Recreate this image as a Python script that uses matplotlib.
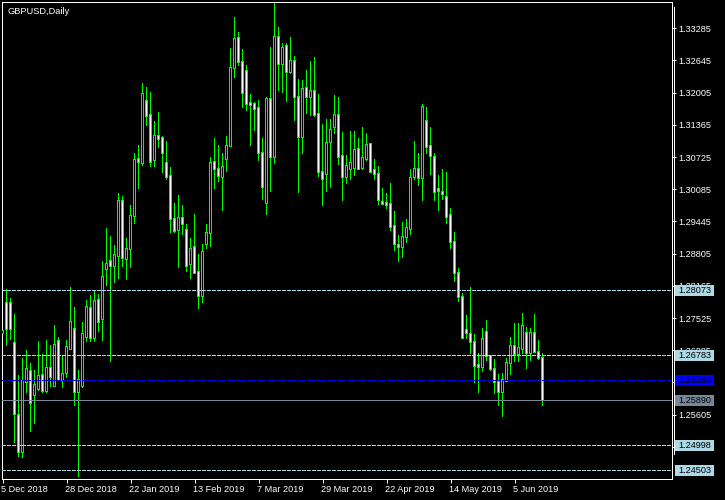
import matplotlib
matplotlib.use("Agg")
import matplotlib.pyplot as plt
from matplotlib.patches import Rectangle
from matplotlib.lines import Line2D
import matplotlib.transforms as mtrans

plt.rcParams['lines.scale_dashes'] = False
plt.rcParams['font.family'] = ['Liberation Sans', 'DejaVu Sans']

opens = [1.27228, 1.27818, 1.27818, 1.27023, 1.25592, 1.24856, 1.26248, 1.26479, 1.25989, 1.26109,
         1.26387, 1.26081, 1.26526, 1.26180, 1.27063, 1.26300, 1.26427, 1.26904, 1.27302, 1.26049,
         1.26180, 1.27154, 1.27719, 1.27123, 1.27884, 1.27500, 1.28494, 1.28659, 1.28566, 1.28765,
         1.29852, 1.28705, 1.28904, 1.29560, 1.30687, 1.30601, 1.31834, 1.31556, 1.30661, 1.31138,
         1.31099, 1.30601, 1.30349, 1.29489, 1.29270, 1.29508, 1.29276, 1.28594, 1.28932, 1.28435,
         1.27970, 1.28998, 1.29210, 1.30621, 1.30482, 1.30335, 1.30681, 1.30952, 1.32490, 1.33087,
         1.32610, 1.32436, 1.31801, 1.31781, 1.31695, 1.30800, 1.29818, 1.31874, 1.30721, 1.33107,
         1.32570, 1.32939, 1.32423, 1.32630, 1.31914, 1.31119, 1.32093, 1.31926, 1.32039, 1.31576,
         1.30435, 1.30383, 1.31031, 1.31317, 1.31556, 1.30741, 1.30323, 1.30482, 1.30502, 1.30880,
         1.30514, 1.30687, 1.30985, 1.30469, 1.30383, 1.29826, 1.29814, 1.29787, 1.29355, 1.28978,
         1.28944, 1.29143, 1.29290, 1.30335, 1.30488, 1.30304, 1.31437, 1.30940, 1.30727, 1.30097,
         1.30031, 1.29926, 1.29568, 1.29031, 1.28415, 1.27938, 1.27282, 1.27202, 1.27043, 1.26586,
         1.26559, 1.27254, 1.26765, 1.26506, 1.26248, 1.26061, 1.26280, 1.26626, 1.26976, 1.26805,
         1.26904, 1.27222, 1.26825, 1.27222, 1.26857, 1.26726]
highs = [1.27321, 1.28097, 1.27904, 1.27586, 1.26373, 1.26711, 1.26870, 1.26626, 1.26473, 1.27049,
         1.26791, 1.27069, 1.26976, 1.27381, 1.27148, 1.26751, 1.27069, 1.28137, 1.27725, 1.26473,
         1.27441, 1.27864, 1.27964, 1.28049, 1.28003, 1.28659, 1.29296, 1.29156, 1.28958, 1.30005,
         1.29932, 1.29097, 1.29753, 1.30800, 1.30946, 1.32178, 1.32099, 1.31999, 1.31442, 1.31602,
         1.31138, 1.31025, 1.30514, 1.29793, 1.29952, 1.29753, 1.29375, 1.29097, 1.29574, 1.28779,
         1.28978, 1.29375, 1.30721, 1.31085, 1.30946, 1.30787, 1.31144, 1.32874, 1.33496, 1.33198,
         1.32854, 1.32536, 1.31979, 1.31806, 1.31840, 1.31085, 1.31906, 1.32900, 1.33782, 1.33305,
         1.32987, 1.32987, 1.33112, 1.32715, 1.32258, 1.32238, 1.32456, 1.32616, 1.32695, 1.31979,
         1.31363, 1.31476, 1.31476, 1.31954, 1.31900, 1.31204, 1.30747, 1.31224, 1.31224, 1.31085,
         1.31323, 1.31184, 1.30999, 1.30667, 1.30528, 1.30091, 1.29992, 1.30190, 1.29634, 1.29162,
         1.29429, 1.29475, 1.30488, 1.31031, 1.30806, 1.31761, 1.31707, 1.31309, 1.30806, 1.30349,
         1.30469, 1.30409, 1.29693, 1.29230, 1.28514, 1.28017, 1.27566, 1.28129, 1.27188, 1.26825,
         1.27321, 1.27467, 1.26765, 1.26705, 1.26393, 1.26427, 1.26725, 1.27148, 1.27421, 1.27421,
         1.27620, 1.27341, 1.27321, 1.27586, 1.27069, 1.26811]
lows = [1.27142, 1.26976, 1.27103, 1.25047, 1.24769, 1.24749, 1.26041, 1.25266, 1.25425, 1.26075,
        1.26041, 1.26041, 1.26160, 1.26160, 1.26294, 1.26140, 1.26347, 1.26890, 1.25790, 1.24370,
        1.26140, 1.27055, 1.27055, 1.27055, 1.27254, 1.27069, 1.28162, 1.26657, 1.28228, 1.28302,
        1.28546, 1.28288, 1.28526, 1.29401, 1.30091, 1.30554, 1.31349, 1.30528, 1.30528, 1.30912,
        1.30415, 1.30270, 1.29222, 1.29230, 1.28526, 1.29177, 1.28447, 1.28308, 1.28420, 1.27711,
        1.27838, 1.28904, 1.28944, 1.30091, 1.30236, 1.29659, 1.30435, 1.30945, 1.32303, 1.32542,
        1.31707, 1.31641, 1.30952, 1.31244, 1.30647, 1.29872, 1.29588, 1.30037, 1.30601, 1.32039,
        1.32005, 1.31826, 1.32383, 1.31449, 1.30017, 1.30793, 1.31582, 1.31548, 1.31528, 1.30335,
        1.29759, 1.30037, 1.30117, 1.31184, 1.30568, 1.29858, 1.30204, 1.30270, 1.30349, 1.30469,
        1.30482, 1.30647, 1.30415, 1.30270, 1.29773, 1.29773, 1.29693, 1.29262, 1.28858, 1.28646,
        1.28725, 1.29023, 1.29177, 1.30270, 1.30157, 1.29858, 1.30800, 1.30375, 1.29858, 1.29659,
        1.29886, 1.29395, 1.28898, 1.28248, 1.27850, 1.27110, 1.27123, 1.26825, 1.26248, 1.26041,
        1.26459, 1.26672, 1.26479, 1.26029, 1.25783, 1.25564, 1.26260, 1.26393, 1.26657, 1.26657,
        1.26825, 1.26512, 1.26678, 1.26850, 1.26692, 1.25783]
closes = [1.27268, 1.27302, 1.27302, 1.25612, 1.24856, 1.26268, 1.26506, 1.25830, 1.26188, 1.26367,
          1.26081, 1.26526, 1.26347, 1.26983, 1.26300, 1.26407, 1.26944, 1.27441, 1.26049, 1.26294,
          1.27214, 1.27751, 1.27135, 1.27864, 1.27453, 1.28335, 1.28594, 1.28566, 1.28773, 1.29852,
          1.28725, 1.28892, 1.29554, 1.30667, 1.30621, 1.31979, 1.31548, 1.30633, 1.31138, 1.31079,
          1.30800, 1.30335, 1.29489, 1.29256, 1.29508, 1.29389, 1.28566, 1.28892, 1.28427, 1.27970,
          1.28844, 1.29210, 1.30601, 1.30482, 1.30355, 1.30522, 1.30946, 1.32490, 1.33067, 1.32610,
          1.32005, 1.31775, 1.31767, 1.31675, 1.30800, 1.30137, 1.31880, 1.30721, 1.33107, 1.32570,
          1.32888, 1.32423, 1.32630, 1.31914, 1.31119, 1.32073, 1.31926, 1.32039, 1.31562, 1.30435,
          1.30284, 1.30999, 1.31258, 1.31556, 1.30733, 1.30323, 1.30554, 1.30601, 1.30860, 1.30488,
          1.30701, 1.30966, 1.30435, 1.30383, 1.29866, 1.29793, 1.29773, 1.29341, 1.28992, 1.28944,
          1.29137, 1.29310, 1.30304, 1.30488, 1.30304, 1.31721, 1.30932, 1.30741, 1.30037, 1.30057,
          1.29997, 1.29540, 1.29031, 1.28415, 1.27950, 1.27123, 1.27222, 1.27043, 1.26578, 1.26547,
          1.27103, 1.26777, 1.26506, 1.26248, 1.26049, 1.26294, 1.26626, 1.26964, 1.26811, 1.26924,
          1.27373, 1.26825, 1.27222, 1.26857, 1.26726, 1.25890]

date_labels = ["5 Dec 2018", "28 Dec 2018", "22 Jan 2019", "13 Feb 2019", "7 Mar 2019",
               "29 Mar 2019", "22 Apr 2019", "14 May 2019", "5 Jun 2019"]
date_label_bars = [0, 16, 32, 48, 64, 80, 96, 112, 128]
price_ticks = [1.33285, 1.32645, 1.32005, 1.31365, 1.30725, 1.30085, 1.29445, 1.28805,
               1.28165, 1.27525, 1.26885, 1.26245, 1.25605, 1.24965]
level_lines = [1.28073, 1.26783, 1.24998, 1.24503]
blue_level = 1.26288
bid_level = 1.25890
title = "GBPUSD,Daily"

W, H = 725, 500
Y0, Y1 = 1.24325, 1.33808
fig = plt.figure(figsize=(7.25, 5), dpi=100, facecolor='black')
left_px, right_px, top_px, bot_px = 2, 672, 2, 479
ax = fig.add_axes([left_px / W, 1 - bot_px / H, (right_px - left_px) / W, (bot_px - top_px) / H])
ax.set_facecolor('black')
ax.set_xlim(-0.125, 167.375)
ax.set_ylim(Y0, Y1)

PX = 0.72  # one pixel in points
LIME = '#00FF00'
px_y = (Y1 - Y0) / (bot_px - top_px)   # price per pixel
px_x = 0.25                              # bar units per pixel

n = len(opens)
xs = list(range(n))
# wicks (1 px wide)
wick_h = [h - l for h, l in zip(highs, lows)]
wicks = ax.bar(xs, wick_h, bottom=lows, width=0.9 * px_x, color=LIME, linewidth=0,
               antialiased=False, zorder=2)

# bodies: lime 3 px outer, 1 px inner fill (white falling, black rising)
tops = [max(o, c) for o, c in zip(opens, closes)]
bots = [min(o, c) for o, c in zip(opens, closes)]
outer_b = [b - 0.5 * px_y for b in bots]
outer_h = [t - b + px_y for t, b in zip(tops, bots)]
outer = ax.bar(xs, outer_h, bottom=outer_b, width=2.9 * px_x, color=LIME, linewidth=0,
               antialiased=False, zorder=3)
fills = ['white' if c < o else 'black' for o, c in zip(opens, closes)]
inner_b = [b + 0.5 * px_y for b in bots]
inner_h = [max(t - b - px_y, 0) for t, b in zip(tops, bots)]
inner = ax.bar(xs, inner_h, bottom=inner_b, width=0.9 * px_x, color=fills, linewidth=0,
               antialiased=False, zorder=4)
for p in list(wicks) + list(outer) + list(inner):
    p.set_snap(False)

dash = (0, (3 * PX, 2 * PX))
for lv in level_lines:
    ax.axhline(lv, color='#ADD8E6', linewidth=PX, linestyle=dash, antialiased=False, zorder=5)
ax.axhline(blue_level, color='#0000FF', linewidth=PX, linestyle=dash, antialiased=False, zorder=5)
ax.axhline(bid_level, color='#778899', linewidth=PX, antialiased=False, zorder=5)

for sp in ax.spines.values():
    sp.set_color('white')
    sp.set_linewidth(PX)

ax.yaxis.tick_right()
ax.set_yticks(price_ticks)
ax.set_yticklabels([f"{v:.5f}" for v in price_ticks])
ax.tick_params(axis='y', colors='white', length=4 * PX, width=PX, pad=2 * PX, labelsize=6.6)

ax.set_xticks(date_label_bars)
ax.set_xticklabels(date_labels, ha='left')
ax.tick_params(axis='x', colors='white', length=4 * PX, width=PX, pad=1.5 * PX, labelsize=6.6)
off = mtrans.ScaledTranslation(-1.5 / 100, 0, fig.dpi_scale_trans)
for lab in ax.get_xticklabels():
    lab.set_transform(lab.get_transform() + off)

# price label boxes on the scale
trans = mtrans.blended_transform_factory(ax.transAxes, ax.transData)
box_w = 39 / (right_px - left_px)
box_x = (675 - left_px) / (right_px - left_px)
box_h = 11 * px_y
txt_x = (678 - left_px) / (right_px - left_px)
labels = [(v, '#ADD8E6') for v in level_lines] + [(blue_level, '#0000FF'), (bid_level, '#778899')]
for v, col in labels:
    r = Rectangle((box_x, v - box_h / 2), box_w, box_h, transform=trans, facecolor=col,
                  edgecolor='none', clip_on=False, zorder=10)
    ax.add_patch(r)
    ax.text(txt_x, v, f"{v:.5f}", transform=trans, color='black', fontsize=6.6,
            va='center', ha='left', clip_on=False, zorder=11)

# scale border line
fig.add_artist(Line2D([673.5 / W, 673.5 / W], [1 - 7 / H, 1 - 454 / H], color='white',
                      linewidth=PX, antialiased=False))

fig.text(7 / W, 1 - 13.5 / H, title, color='white', fontsize=6.7, va='baseline', ha='left')

fig.savefig('out.png', dpi=100, facecolor='black')
